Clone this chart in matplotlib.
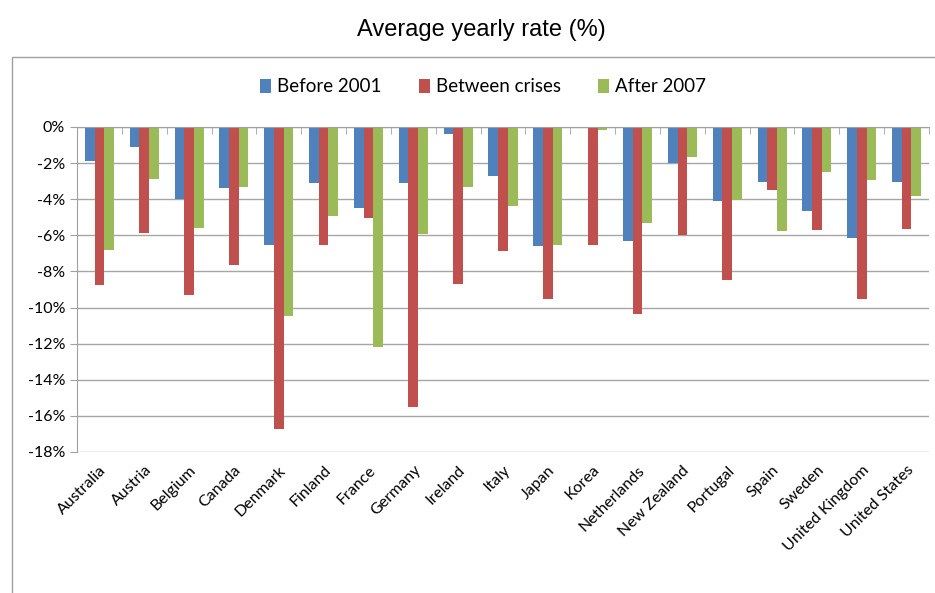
import matplotlib.pyplot as plt
from matplotlib.patches import Rectangle
import numpy as np

countries = ['Australia', 'Austria', 'Belgium', 'Canada', 'Denmark', 'Finland', 'France',
             'Germany', 'Ireland', 'Italy', 'Japan', 'Korea', 'Netherlands', 'New Zealand',
             'Portugal', 'Spain', 'Sweden', 'United Kingdom', 'United States']
before_2001 = [-1.9, -1.1, -4.0, -3.4, -6.55, -3.1, -4.5, -3.1, -0.4, -2.7, -6.6, 0.0,
               -6.3, -2.0, -4.1, -3.05, -4.65, -6.15, -3.05]
between_crises = [-8.75, -5.85, -9.3, -7.65, -16.7, -6.55, -5.05, -15.5, -8.7, -6.85, -9.5,
                  -6.55, -10.35, -6.0, -8.5, -3.5, -5.7, -9.55, -5.65]
after_2007 = [-6.8, -2.9, -5.6, -3.3, -10.45, -4.95, -12.2, -5.95, -3.3, -4.35, -6.55, -0.15,
              -5.3, -1.65, -4.05, -5.75, -2.5, -2.95, -3.8]
series_names = ['Before 2001', 'Between crises', 'After 2007']
colors = ['#4F81BD', '#C0504D', '#9BBB59']
yticks = np.arange(0, -19, -2)

plt.rcParams['font.family'] = ['Lato', 'DejaVu Sans']

fig = plt.figure(figsize=(9.35, 5.93), dpi=100)
ax = fig.add_axes([77/935, 1-452/593, (929-77)/935, (452-127)/593])

# outer chart frame
fig.patches.append(Rectangle((12/935, -0.05), 1.0, 1-57/593+0.05, transform=fig.transFigure,
                             fill=False, edgecolor='#a0a0a0', linewidth=1.0, zorder=0))

x = np.arange(len(countries))
w = 0.216
for i, (vals, name, c) in enumerate(zip([before_2001, between_crises, after_2007], series_names, colors)):
    ax.bar(x + (i - 1) * w, vals, width=w, color=c, label=name, zorder=3)

ax.set_xlim(-0.5, len(countries) - 0.5)
ax.set_ylim(-18, 0)
ax.set_yticks(yticks)
ax.set_yticklabels([f'{v}%' for v in yticks], fontsize=11.5)
ax.yaxis.grid(True, color='#a6a6a6', linewidth=1.0, zorder=0)
ax.set_axisbelow(True)

ax.set_xticks(x)
ax.set_xticklabels(countries, rotation=45, ha='right', rotation_mode='anchor', fontsize=11.5)
ax.set_xticks(np.arange(len(countries) + 1) - 0.5, minor=True)
ax.tick_params(axis='x', which='major', length=0, pad=8)
ax.tick_params(axis='x', which='minor', bottom=False, top=True, direction='in', length=5,
               color='#a0a0a0')
ax.tick_params(axis='y', length=5, color='#a0a0a0')

for s in ['right', 'bottom']:
    ax.spines[s].set_visible(False)
ax.spines['left'].set_color('#a0a0a0')
ax.spines['top'].set_color('#a0a0a0')
ax.spines['top'].set_zorder(5)

fig.text(481/935, 1-30/593, 'Average yearly rate (%)', ha='center', va='center',
         fontsize=17, family='Liberation Sans')
fig.legend(loc='center', bbox_to_anchor=(483/935, 1-87/593), ncol=3, frameon=False,
           fontsize=13.5, handlelength=0.6, handleheight=0.7, handletextpad=0.3,
           columnspacing=2.0)

fig.savefig('out.png', dpi=100)
